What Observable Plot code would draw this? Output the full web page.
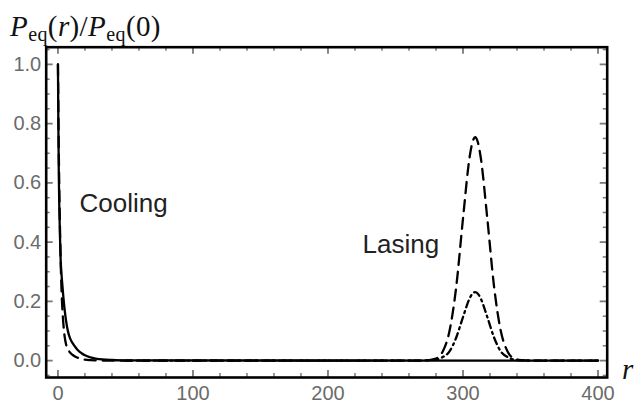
<!DOCTYPE html>
<html><head><meta charset="utf-8">
<script src="https://cdn.jsdelivr.net/npm/d3@7"></script>
<script src="https://cdn.jsdelivr.net/npm/@observablehq/plot@0.6"></script>
<style>body{margin:0;background:#fff} #chart svg{display:block}</style>
</head><body><div id="chart"></div>
<script>
// ---- data ----
const coolR      = [0, 0.3, 0.6, 1, 1.5, 2, 2.5, 3, 4, 5, 6, 7.5, 9, 11, 13, 15, 17.5, 20, 24, 28, 33, 40, 50];
const solidCool  = [1, 0.8, 0.64, 0.52, 0.42, 0.34, 0.3, 0.27, 0.215, 0.17, 0.135, 0.097, 0.075, 0.058, 0.045, 0.034, 0.025, 0.018, 0.011, 0.007, 0.004, 0.002, 0.0005];
const dashedCool = [1, 0.85, 0.72, 0.58, 0.45, 0.34, 0.26, 0.2, 0.125, 0.08, 0.055, 0.038, 0.027, 0.019, 0.013, 0.009, 0.005, 0.003, 0.0015, 0.0008, 0.0003, 0, 0];
const lasingR       = [265, 275, 280, 285, 290, 295, 300, 305, 307, 309, 311, 313, 318, 323, 328, 333, 338, 343, 353];
const dashedLasing  = [0, 0.002, 0.007, 0.031, 0.1, 0.25, 0.48, 0.69, 0.737, 0.754, 0.737, 0.69, 0.48, 0.25, 0.1, 0.031, 0.007, 0.002, 0];
const dotdashLasing = [0, 0.001, 0.003, 0.012, 0.031, 0.078, 0.147, 0.211, 0.226, 0.231, 0.226, 0.211, 0.147, 0.078, 0.031, 0.012, 0.003, 0.001, 0];
const rEnd = 400;
const xTicks = [0, 100, 200, 300, 400];
const yTicks = [0, 0.2, 0.4, 0.6, 0.8, 1.0];
const labels = [{x: 16, y: 0.53, text: "Cooling"}, {x: 225.6, y: 0.39, text: "Lasing"}];

// ---- build series ----
const solid = coolR.map((r, i) => ({r, p: solidCool[i]})).concat([{r: rEnd, p: 0}]);
const dashed = coolR.map((r, i) => ({r, p: dashedCool[i]}))
  .concat(lasingR.map((r, i) => ({r, p: dashedLasing[i]})))
  .concat([{r: rEnd, p: 0}]);
const dotdash = [{r: 50, p: 0}]
  .concat(lasingR.map((r, i) => ({r, p: dotdashLasing[i]})))
  .concat([{r: rEnd, p: 0}]);

const xMinor = d3.range(0, 401, 20).filter(v => !xTicks.includes(v));
const yMinor = d3.range(-1, 22).map(k => +(k * 0.05).toFixed(2)).filter(v => !yTicks.some(t => Math.abs(t - v) < 1e-9));

const W = 639, H = 405, mL = 45.7, mR = 32.3, mT = 46.7, mB = 28;
const innerH = H - mT - mB, innerW = W - mL - mR;
const majorLen = 7, minorLen = 4, tickColor = "#7a7a7a";

const plot = Plot.plot({
  width: W, height: H,
  marginLeft: mL, marginRight: mR, marginTop: mT, marginBottom: mB,
  x: {domain: [-8.7, 406.8]},
  y: {domain: [-0.057, 1.058]},
  style: {fontFamily: "'Liberation Sans', Arial, sans-serif", background: "white", overflow: "visible"},
  marks: [
    // ticks on all four sides, inward
    Plot.tickX(xMinor, {x: d => d, insetTop: innerH - minorLen, stroke: tickColor, strokeWidth: 1.5}),
    Plot.tickX(xMinor, {x: d => d, insetBottom: innerH - minorLen, stroke: tickColor, strokeWidth: 1.5}),
    Plot.tickX(xTicks, {x: d => d, insetTop: innerH - majorLen, stroke: tickColor, strokeWidth: 1.8}),
    Plot.tickX(xTicks, {x: d => d, insetBottom: innerH - majorLen, stroke: tickColor, strokeWidth: 1.8}),
    Plot.tickY(yMinor, {y: d => d, insetRight: innerW - minorLen, stroke: tickColor, strokeWidth: 1.5}),
    Plot.tickY(yMinor, {y: d => d, insetLeft: innerW - minorLen, stroke: tickColor, strokeWidth: 1.5}),
    Plot.tickY(yTicks, {y: d => d, insetRight: innerW - majorLen, stroke: tickColor, strokeWidth: 1.8}),
    Plot.tickY(yTicks, {y: d => d, insetLeft: innerW - majorLen, stroke: tickColor, strokeWidth: 1.8}),
    // curves
    Plot.line(solid, {x: "r", y: "p", stroke: "black", strokeWidth: 2.3, curve: "monotone-x", clip: true}),
    Plot.line(dashed, {x: "r", y: "p", stroke: "black", strokeWidth: 2.3, strokeDasharray: "11,7", curve: "monotone-x", clip: true}),
    Plot.line(dotdash, {x: "r", y: "p", stroke: "black", strokeWidth: 2.3, strokeDasharray: "7,4,2,4", curve: "monotone-x", clip: true}),
    // annotations
    Plot.text(labels, {x: "x", y: "y", text: "text", textAnchor: "start", fontSize: 26, fill: "#222"}),
    // axes labels
    Plot.axisX({ticks: xTicks, tickSize: 0, tickPadding: 8, fontSize: 20, color: "#6b6b6b", label: null}),
    Plot.axisY({ticks: yTicks, tickSize: 0, tickPadding: 5, fontSize: 20, color: "#6b6b6b", tickFormat: d => d.toFixed(1), label: null}),
    Plot.frame({stroke: "black", strokeWidth: 2.6})
  ]
});

const svg = d3.select(plot);
const title = svg.append("text")
  .attr("x", 10).attr("y", 36)
  .attr("text-anchor", "start")
  .attr("font-family", "'Liberation Serif', 'DejaVu Serif', serif")
  .attr("font-size", 29).attr("letter-spacing", 0.4).attr("fill", "#111");
title.append("tspan").attr("font-style", "italic").text("P");
title.append("tspan").attr("font-size", 20).attr("dy", 5).text("eq");
title.append("tspan").attr("dy", -5).text("(");
title.append("tspan").attr("font-style", "italic").text("r");
title.append("tspan").text(")/");
title.append("tspan").attr("font-style", "italic").text("P");
title.append("tspan").attr("font-size", 20).attr("dy", 5).text("eq");
title.append("tspan").attr("dy", -5).text("(0)");

svg.append("text")
  .attr("x", 622).attr("y", 379)
  .attr("text-anchor", "start")
  .attr("font-family", "'Liberation Serif', 'DejaVu Serif', serif")
  .attr("font-size", 29).attr("font-style", "italic").attr("fill", "#111")
  .text("r");

document.getElementById("chart").appendChild(plot);
</script>
</body></html>
